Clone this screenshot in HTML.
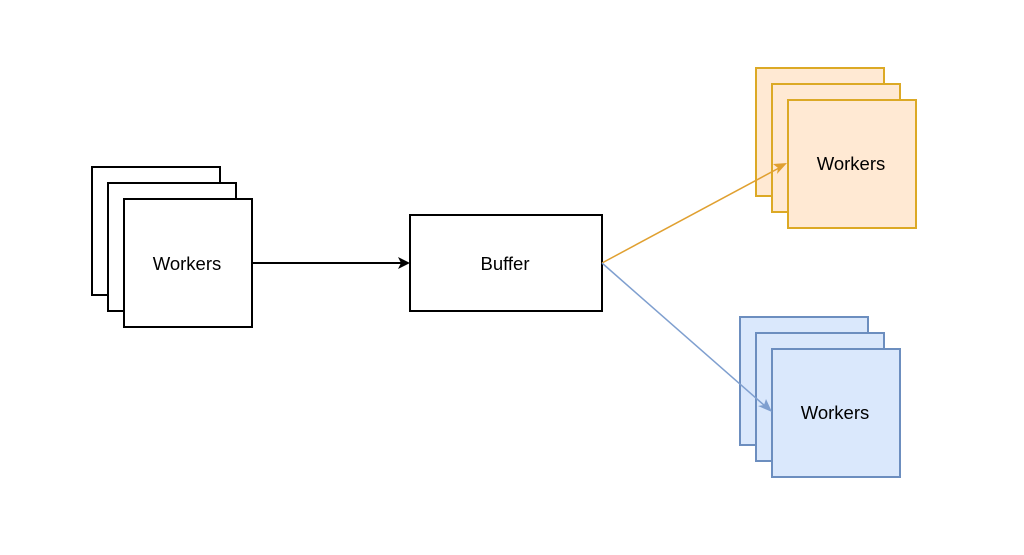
<!DOCTYPE html>
<html><head><style>body{margin:0;background:#fff}</style></head><body>
<svg width="1024" height="550" xmlns="http://www.w3.org/2000/svg" font-family="Liberation Sans, sans-serif" font-size="18.5">
<rect width="1024" height="550" fill="#fff"/>
<g fill="#fff" stroke="#000" stroke-width="2">
<rect x="92" y="167" width="128" height="128"/>
<rect x="108" y="183" width="128" height="128"/>
<rect x="124" y="199" width="128" height="128"/>
<rect x="410" y="215" width="192" height="96"/>
</g>
<g fill="#ffe6cc" stroke="#d79b00" stroke-width="2" opacity="0.85">
<rect x="756" y="68" width="128" height="128"/>
<rect x="772" y="84" width="128" height="128"/>
<rect x="788" y="100" width="128" height="128"/>
</g>
<g fill="#dae8fc" stroke="#6c8ebf" stroke-width="2">
<rect x="740" y="317" width="128" height="128"/>
<rect x="756" y="333" width="128" height="128"/>
<rect x="772" y="349" width="128" height="128"/>
</g>
<g text-anchor="middle" fill="#000">
<text x="187" y="270">Workers</text>
<text x="505" y="270">Buffer</text>
<text x="851" y="170">Workers</text>
<text x="835" y="419">Workers</text>
</g>
<line x1="252" y1="263" x2="402" y2="263" stroke="#000" stroke-width="2"/>
<polygon points="410,263 398,257 401,263 398,269" fill="#000"/>
<line x1="602" y1="263" x2="779" y2="168" stroke="#e0a030" stroke-width="1.5"/>
<polygon points="787,163 773,164 778,168 777,174" fill="#e0a030"/>
<line x1="602" y1="263" x2="765" y2="406" stroke="#7f9fcf" stroke-width="1.5"/>
<polygon points="772,412 766,399 764,405 758,406" fill="#7f9fcf"/>
</svg>
</body></html>
